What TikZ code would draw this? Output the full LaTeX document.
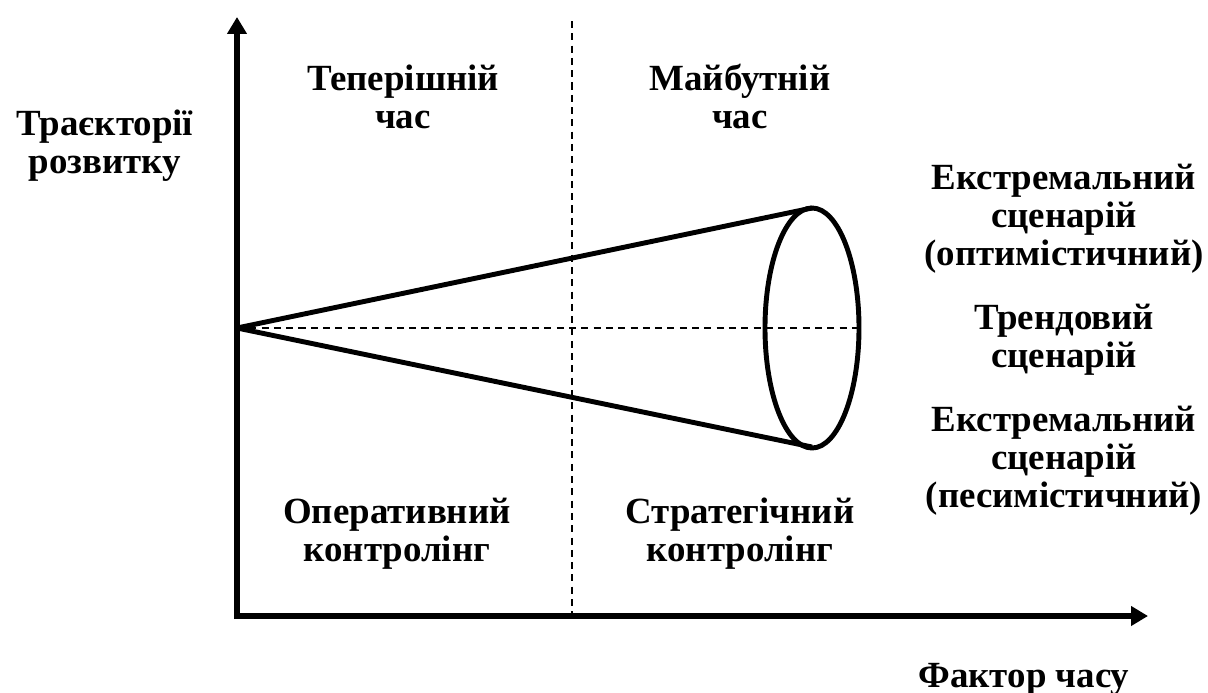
\documentclass[tikz,border=0pt]{standalone}
\usepackage{fontspec}
\setmainfont{Liberation Serif}
\usetikzlibrary{arrows.meta}
\tikzset{
  lbl/.style={font=\bfseries\fontsize{21}{21.6}\selectfont, align=center, inner sep=0pt, anchor=base},
  axis/.style={line width=3.4pt, -{Triangle[length=0.34cm, width=0.38cm]}},
  cone/.style={line width=2.8pt, line join=round},
  guide/.style={line width=0.7pt, dash pattern=on 4pt off 3pt}
}
\begin{document}
\begin{tikzpicture}[x=0.02cm, y=-0.02cm]
  \useasboundingbox (0,0) rectangle (1208,693);
  \coordinate (O) at (237,616); \coordinate (Y) at (237,17); \coordinate (X) at (1148,616);
  \coordinate (A) at (237,328); \coordinate (T) at (812,208); \coordinate (B) at (812,447); \coordinate (C) at (812,328);
  \coordinate (M1) at (572,21); \coordinate (M2) at (572,616); \coordinate (E) at (860,328);
  \draw[guide] (M1) -- (M2);
  \draw[guide] (A) -- (E);
  \draw[cone] (T) -- (A) -- (B);
  \draw[cone] (C) ellipse[x radius=47, y radius=120];
  \draw[axis] (237,619) -- (Y);
  \draw[axis] (234,616) -- (X);
  % base anchor sits on the last line
  \node[lbl] (now) at (403,128) {Теперішній\\час};
  \node[lbl] (future) at (740,128) {Майбутній\\час};
  \node[lbl] (traj) at (105,173) {Траєкторії\\розвитку};
  \node[lbl] (opt) at (1064,265) {Екстремальний\\сценарій\\(оптимістичний)};
  \node[lbl] (trend) at (1064,367) {Трендовий\\сценарій};
  \node[lbl] (pes) at (1064,507) {Екстремальний\\сценарій\\(песимістичний)};
  \node[lbl] (oper) at (397,561) {Оперативний\\контролінг};
  \node[lbl] (strat) at (740,561) {Стратегічний\\контролінг};
  \node[lbl] (time) at (1024,687) {Фактор часу};
\end{tikzpicture}
\end{document}
